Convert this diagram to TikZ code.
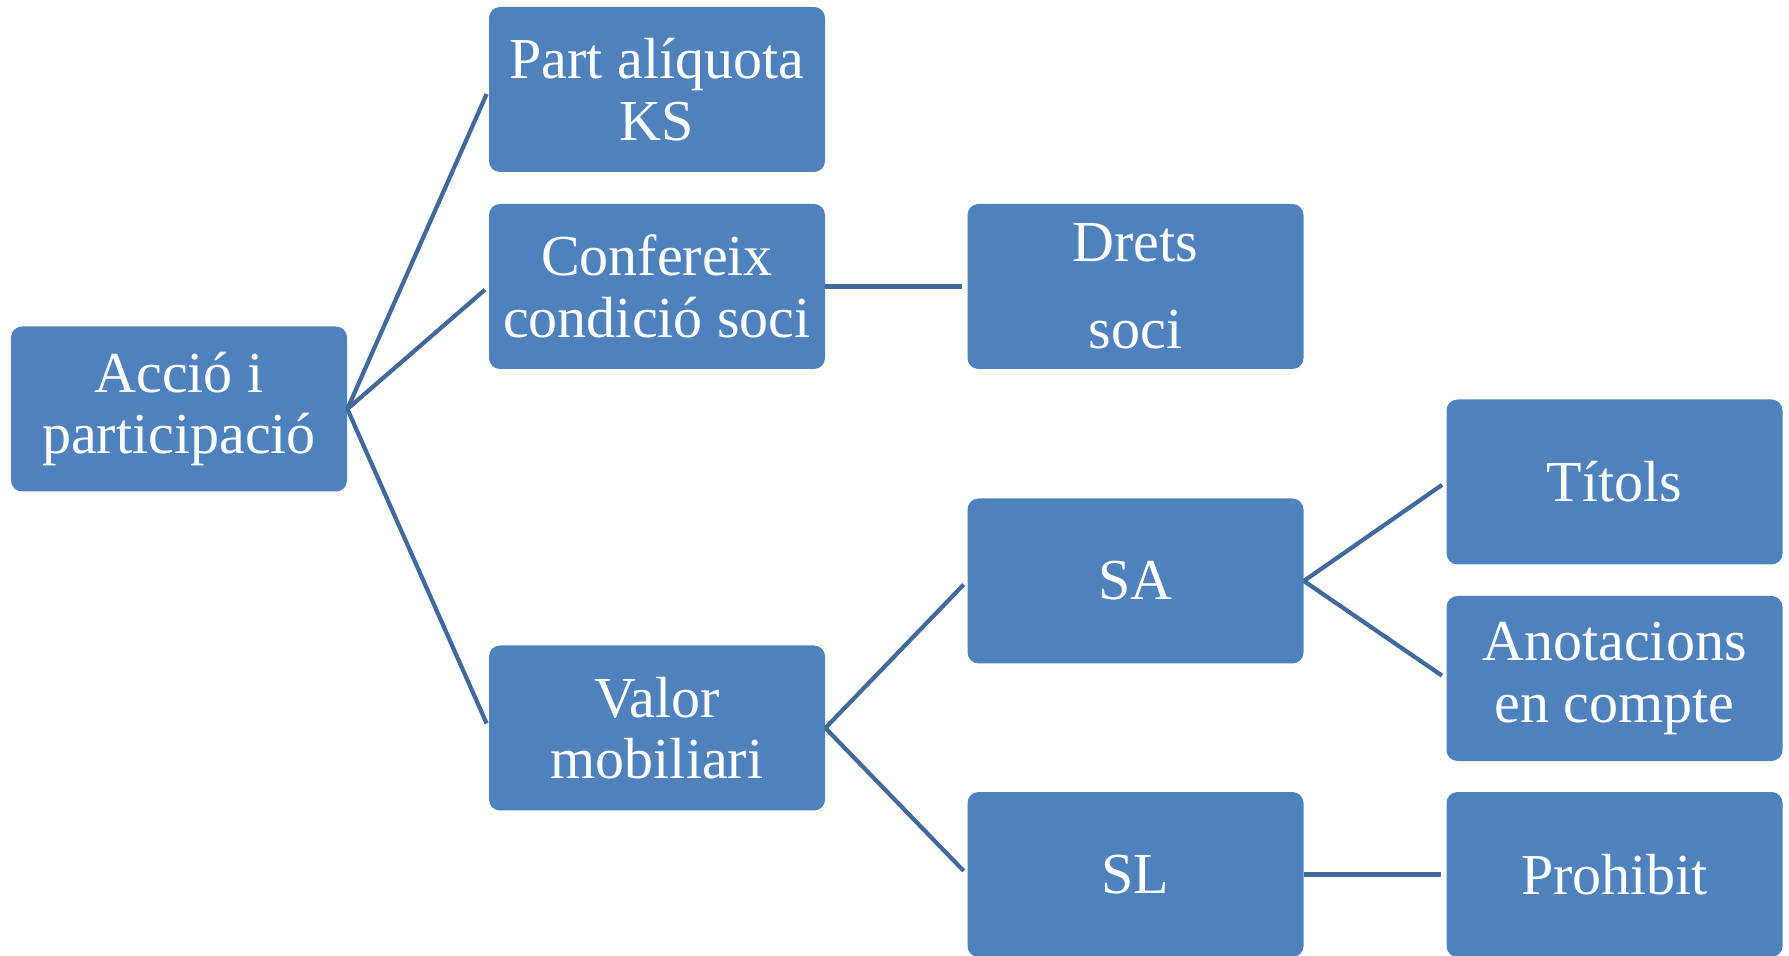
\documentclass[tikz,border=0pt]{standalone}
\usepackage{fontspec}
\setmainfont{Liberation Serif}
\definecolor{boxblue}{HTML}{4F81BD}
\definecolor{lineblue}{HTML}{41699B}
\tikzset{
  box/.style={draw=none,fill=boxblue,rounded corners=0.22cm,minimum width=6.72cm,
    minimum height=3.3cm,inner sep=0pt,text=white,align=center,
    font=\fontsize{33}{35}\selectfont},
  link/.style={draw=lineblue,line width=2.4pt,shorten >=0.1cm}
}
\begin{document}
\begin{tikzpicture}
      \useasboundingbox (0,0) rectangle (35.78,-19.12);
      % boxes
      \node[box] (accio) at (3.58,-8.18) {Acció i\\participació};
      \node[box] (part) at (13.14,-1.79) {Part alíquota\\KS};
      \node[box] (conf) at (13.14,-5.73) {Confereix\\condició soci};
      \node[box] (valor) at (13.14,-14.56) {Valor\\mobiliari};
      \node[box] (drets) at (22.71,-5.73) {Drets\\[0.52cm]soci};
      \node[box] (sa) at (22.71,-11.62) {SA};
      \node[box] (sl) at (22.71,-17.49) {SL};
      \node[box] (titols) at (32.29,-9.64) {Títols};
      \node[box] (anot) at (32.29,-13.57) {Anotacions\\en compte};
      \node[box] (prohib) at (32.29,-17.49) {Prohibit};
      % connectors
      \foreach \child in {part,conf,valor}
        \draw[link] (accio.east) -- (\child.west);
      \draw[link] (conf.east) -- (drets.west);
      \foreach \child in {sa,sl}
        \draw[link] (valor.east) -- (\child.west);
      \foreach \child in {titols,anot}
        \draw[link] (sa.east) -- (\child.west);
      \draw[link] (sl.east) -- (prohib.west);
\end{tikzpicture}
\end{document}
